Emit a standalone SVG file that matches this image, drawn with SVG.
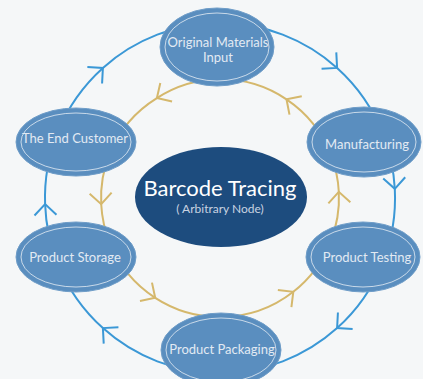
<svg xmlns="http://www.w3.org/2000/svg" width="423" height="379" viewBox="0 0 423 379">
<defs>
<marker id="cb" viewBox="-13 -13 15 26" markerWidth="15" markerHeight="26" refX="0" refY="0" orient="auto" markerUnits="userSpaceOnUse">
<path d="M-11,-11 L0,0 L-11,11" fill="none" stroke="#3b98d6" stroke-width="2"/>
</marker>
<marker id="cg" viewBox="-13 -13 15 26" markerWidth="15" markerHeight="26" refX="0" refY="0" orient="auto" markerUnits="userSpaceOnUse">
<path d="M-11,-11 L0,0 L-11,11" fill="none" stroke="#d5b86c" stroke-width="2"/>
</marker>
</defs>
<style>
.bl{fill:none;stroke:#3b98d6;stroke-width:2;marker-mid:url(#cb)}
.gd{fill:none;stroke:#d5b86c;stroke-width:2;marker-mid:url(#cg)}
.nd{fill:#5a8ebf;stroke:#6f9dc8;stroke-width:1}
.rg{fill:none;stroke:#e4ecf4;stroke-width:0.8}
.tx{font-family:Lato,"Liberation Sans",sans-serif;font-size:13px;fill:#e2eaf3;text-anchor:middle}
</style>
<rect width="423" height="379" fill="#f5f7f8"/>
<g id="connectors">
<path class="bl" d="M57.7,132.4 A175,175 0 0 1 102.9,67.9 A175,175 0 0 1 220,23"/>
<path class="bl" d="M220,23 A175,175 0 0 1 337.1,67.9 A175,175 0 0 1 383.4,135.3"/>
<path class="bl" d="M383.4,135.3 A175,175 0 0 1 394.8,188.8 A175,175 0 0 1 382.3,263.6"/>
<path class="bl" d="M382.3,263.6 A175,175 0 0 1 337.1,328.1 A175,175 0 0 1 220,373"/>
<path class="bl" d="M220,373 A175,175 0 0 1 102.9,328.1 A175,175 0 0 1 57.7,263.6"/>
<path class="bl" d="M57.7,263.6 A175,175 0 0 1 45.1,204.1 A175,175 0 0 1 57.7,132.4"/>
<path class="gd" d="M220,79 A119,119 0 0 0 156.9,98.1 A119,119 0 0 0 109.7,153.4"/>
<path class="gd" d="M109.7,153.4 A119,119 0 0 0 101.2,204.2 A119,119 0 0 0 109.7,242.6"/>
<path class="gd" d="M109.7,242.6 A119,119 0 0 0 155.2,297.8 A119,119 0 0 0 220,317"/>
<path class="gd" d="M220,317 A119,119 0 0 0 293.3,291.8 A119,119 0 0 0 330.3,242.6"/>
<path class="gd" d="M330.3,242.6 A119,119 0 0 0 338.8,191.8 A119,119 0 0 0 331.1,155.4"/>
<path class="gd" d="M331.1,155.4 A119,119 0 0 0 286.5,99.3 A119,119 0 0 0 220,79"/>
</g>
<g id="center">
<ellipse cx="221" cy="197" rx="86" ry="50" fill="#1d4c7e"/>
<text x="220" y="196" font-family="Lato,'Liberation Sans',sans-serif" font-size="22" fill="#ffffff" text-anchor="middle">Barcode Tracing</text>
<text x="220" y="213" font-family="Lato,'Liberation Sans',sans-serif" font-size="12" fill="#c8d3e1" text-anchor="middle">( Arbitrary Node)</text>
</g>
<g id="n-original">
<ellipse class="nd" cx="217" cy="47" rx="57" ry="39"/>
<ellipse class="rg" cx="217" cy="47" rx="52" ry="34"/>
<text class="tx" x="218" y="47">Original Materials</text>
<text class="tx" x="218" y="62">Input</text>
</g>
<g id="n-manufacturing">
<ellipse class="nd" cx="364" cy="142" rx="57" ry="35"/>
<ellipse class="rg" cx="364" cy="142" rx="52" ry="30"/>
<text class="tx" x="367" y="149">Manufacturing</text>
</g>
<g id="n-testing">
<ellipse class="nd" cx="363" cy="257" rx="57" ry="35"/>
<ellipse class="rg" cx="363" cy="257" rx="52" ry="30"/>
<text class="tx" x="367" y="262">Product Testing</text>
</g>
<g id="n-packaging">
<ellipse class="nd" cx="221" cy="350" rx="60" ry="37"/>
<ellipse class="rg" cx="221" cy="350" rx="55" ry="32"/>
<text class="tx" x="222" y="354">Product Packaging</text>
</g>
<g id="n-storage">
<ellipse class="nd" cx="76" cy="257" rx="60" ry="35"/>
<ellipse class="rg" cx="76" cy="257" rx="55" ry="30"/>
<text class="tx" x="75" y="262">Product Storage</text>
</g>
<g id="n-customer">
<ellipse class="nd" cx="76" cy="142" rx="60" ry="34"/>
<ellipse class="rg" cx="76" cy="142" rx="55" ry="29"/>
<text class="tx" x="75" y="143">The End Customer</text>
</g>
</svg>
